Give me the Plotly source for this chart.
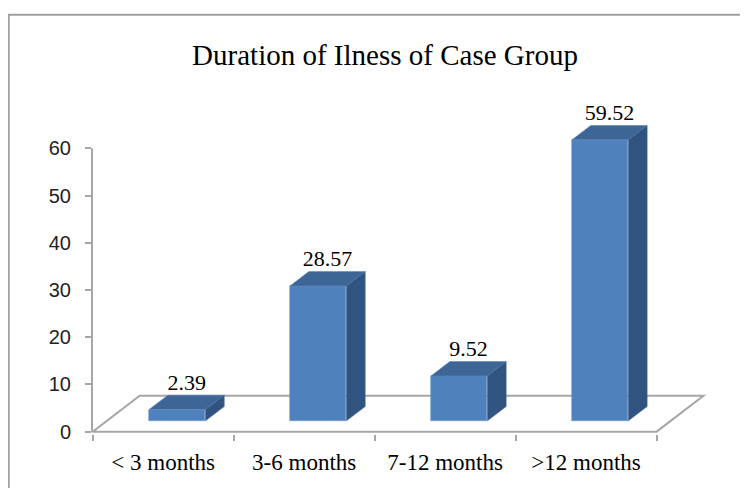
import plotly.graph_objects as go

# ---- data ----
categories = ["< 3 months", "3-6 months", "7-12 months", ">12 months"]
values = [2.39, 28.57, 9.52, 59.52]
value_labels = ["2.39", "28.57", "9.52", "59.52"]
y_ticks = [0, 10, 20, 30, 40, 50, 60]
title_text = "Duration of Ilness of Case Group"

# ---- pseudo-3D geometry (in axis units) ----
DX, DY = 0.333, 7.6      # floor depth projected on x / y axes
Z0, Z1 = 0.30, 0.70      # bar front / back depth (fraction of floor)
W = 0.40                 # bar width (category units)
idx = list(range(len(categories)))


def proj(x, y, z):
    return x + z * DX, y + z * DY


# ---- layout pixel mapping (figure sits 8px in from the page edge) ----
OFF = 8
FIG_W, FIG_H = 740, 480
PX_X, PX_Y = 141.0, 4.733
X0, X1 = -0.505, 3.95
Y0, Y1 = -0.5, 66.0
L = (93 - OFF) - 0.005 * PX_X
plot_w = (X1 - X0) * PX_X
plot_h = (Y1 - Y0) * PX_Y
bottom_px = (432 - OFF) + (-Y0) * PX_Y
B = FIG_H - bottom_px
T = bottom_px - plot_h
R = FIG_W - L - plot_w

FRONT = "#4F81BD"
TOP = "#3D6697"
SIDE = "#31537F"
GRAY = "#A6A6A6"

fig = go.Figure()

# front faces as bars
fig.add_trace(go.Bar(
    x=[i + Z0 * DX for i in idx],
    y=values,
    base=[Z0 * DY] * len(idx),
    width=W,
    marker=dict(color=FRONT, line=dict(width=0.6, color="#6A96CC")),
    hoverinfo="skip",
    showlegend=False,
))

# top faces
tx, ty = [], []
for i, v in zip(idx, values):
    pts = [proj(i - W / 2, v, Z0), proj(i + W / 2, v, Z0),
           proj(i + W / 2, v, Z1), proj(i - W / 2, v, Z1), proj(i - W / 2, v, Z0)]
    tx += [p[0] for p in pts] + [None]
    ty += [p[1] for p in pts] + [None]
fig.add_trace(go.Scatter(x=tx, y=ty, mode="lines", fill="toself", fillcolor=TOP,
                         line=dict(width=0.6, color="#5A84B8"), hoverinfo="skip",
                         showlegend=False))

# side faces
sx, sy = [], []
for i, v in zip(idx, values):
    pts = [proj(i + W / 2, 0, Z0), proj(i + W / 2, v, Z0),
           proj(i + W / 2, v, Z1), proj(i + W / 2, 0, Z1), proj(i + W / 2, 0, Z0)]
    sx += [p[0] for p in pts] + [None]
    sy += [p[1] for p in pts] + [None]
fig.add_trace(go.Scatter(x=sx, y=sy, mode="lines", fill="toself", fillcolor=SIDE,
                         line=dict(width=0.6, color="#4A6E9C"), hoverinfo="skip",
                         showlegend=False))

# data labels
lx = [proj(i, v, (Z0 + Z1) / 2)[0] for i, v in zip(idx, values)]
ly = [v + Z1 * DY for v in values]
fig.add_trace(go.Scatter(x=lx, y=ly, mode="text", text=value_labels,
                         textposition="top center", cliponaxis=False,
                         textfont=dict(family="Liberation Serif", size=22, color="#000000"),
                         hoverinfo="skip", showlegend=False))

# floor (drawn below the bars)
n = len(categories)
fl = [proj(-0.5, 0, 0), proj(n - 0.5, 0, 0), proj(n - 0.5, 0, 1), proj(-0.5, 0, 1)]
path = "M " + " L ".join(f"{x},{y}" for x, y in fl) + " Z"
shapes = [
    dict(type="path", path=path, xref="x", yref="y", layer="below",
         line=dict(color=GRAY, width=2)),
    # y axis line from 0 to 60
    dict(type="line", xref="paper", yref="y", x0=0, x1=0, y0=0, y1=max(y_ticks),
         line=dict(color=GRAY, width=2)),
    # outer chart border (top and left visible)
    dict(type="rect", xref="paper", yref="paper",
         x0=(1 - L) / plot_w, x1=(FIG_W + 20 - L) / plot_w,
         y0=(bottom_px - FIG_H - 20) / plot_h, y1=(bottom_px - (14 - OFF)) / plot_h,
         line=dict(color="#A0A0A0", width=2), layer="above"),
]

fig.update_layout(
    width=FIG_W, height=FIG_H,
    margin=dict(l=L, r=R, t=T, b=B, autoexpand=False),
    paper_bgcolor="white", plot_bgcolor="white",
    shapes=shapes,
    bargap=0,
    title=dict(text=title_text, x=(385 - OFF) / FIG_W, y=1 - (55 - OFF) / FIG_H,
               xref="container", yref="container", xanchor="center", yanchor="middle",
               font=dict(family="Liberation Serif", size=29, color="#000000")),
    xaxis=dict(range=[X0, X1], showgrid=False, zeroline=False, showline=False,
               tickvals=idx, ticktext=categories, ticks="",
               tickfont=dict(family="Liberation Serif", size=23, color="#000000"),
               ticklabelstandoff=12,
               minor=dict(tickvals=[i - 0.5 for i in range(n + 1)], ticks="outside",
                          ticklen=6, tickcolor=GRAY, tickwidth=2)),
    yaxis=dict(range=[Y0, Y1], showgrid=False, zeroline=False, showline=False,
               tickvals=y_ticks, ticks="outside", ticklen=6, tickcolor=GRAY, tickwidth=2,
               tickfont=dict(family="Liberation Sans", size=20, color="#222222"),
               ticklabelstandoff=10),
)

fig.write_html("out.html")
